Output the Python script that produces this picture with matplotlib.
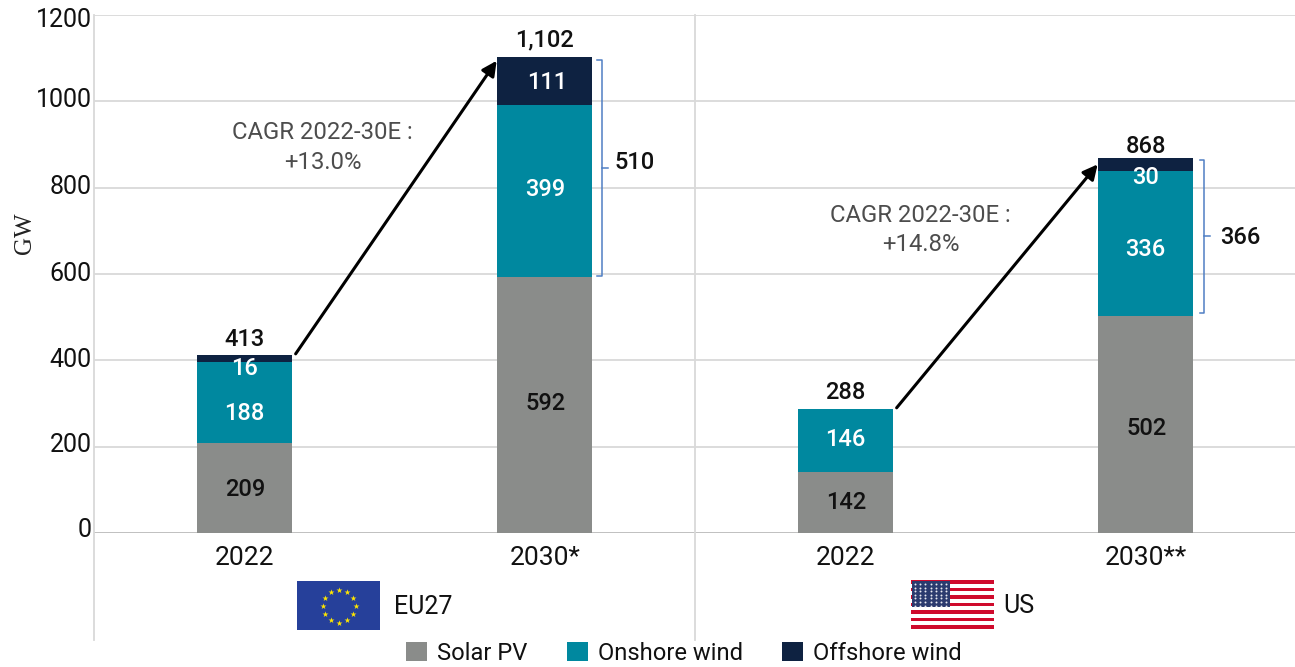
import numpy as np
import matplotlib.pyplot as plt
from matplotlib.patches import Rectangle
from matplotlib.transforms import ScaledTranslation

plt.rcParams['font.family'] = ['Roboto', 'DejaVu Sans']

categories = ['2022', '2030*', '2022', '2030**']
solar = [209, 592, 142, 502]
onshore = [188, 399, 146, 336]
offshore = [16, 111, 0, 30]
totals = ['413', '1,102', '288', '868']
total_heights = [413, 1102, 288, 868]
cagr = ['CAGR 2022-30E :\n+13.0%', 'CAGR 2022-30E :\n+14.8%']
bracket_labels = ['510', '366']

c_solar = '#8a8c8a'
c_on = '#00889f'
c_off = '#0e2241'
grid = '#d9d9d9'
blue = '#4f7fc4'

W, H = 1295, 667
fig = plt.figure(figsize=(W / 100, H / 100), dpi=100)
ax = fig.add_axes([94 / W, 1 - 533 / H, 1202 / W, 518 / H])

x = np.arange(4)
bw = 0.316
solar = np.array(solar)
onshore = np.array(onshore)
offshore = np.array(offshore)
ax.bar(x, solar, bw, color=c_solar, label='Solar PV', zorder=3)
ax.bar(x, onshore, bw, bottom=solar, color=c_on, label='Onshore wind', zorder=3)
ax.bar(x, offshore, bw, bottom=solar + onshore, color=c_off, label='Offshore wind', zorder=3)

ax.set_xlim(-0.5, 3.5)
ax.set_ylim(0, 1200)
ax.set_yticks(range(0, 1201, 200))
ax.set_xticks(x)
ax.set_xticklabels(categories)
ax.tick_params(axis='both', length=0, labelcolor='#111111')
ax.tick_params(axis='x', pad=9.5, labelsize=19)
ax.tick_params(axis='y', pad=1.8, labelsize=18)
# the labels sit a bit off the gridlines in the original
ylab_dy = [2, 1, 0.5, 0, 0.5, 1, -3.6]
for lab, dy in zip(ax.get_yticklabels(), ylab_dy):
    lab.set_verticalalignment('center')
    lab.set_transform(lab.get_transform() + ScaledTranslation(0, dy / 72, fig.dpi_scale_trans))
ax.grid(axis='y', color=grid, lw=1.3, zorder=0)
ax.set_axisbelow(True)
for s in ax.spines.values():
    s.set_visible(False)
ax.axhline(0, color='#bfbfbf', lw=1.3, zorder=1)
for xv in [-0.5, 1.5]:
    ax.plot([xv, xv], [1200, -248], color=grid, lw=1.3, clip_on=False, zorder=1)

ax.set_ylabel('GW', family='Liberation Serif', fontsize=18, color='#222222')
ax.yaxis.set_label_coords(-58 / 1202, 0.578)

# value labels, pixel nudges per label
lab_font = dict(ha='center', va='center', fontsize=17, fontweight='medium', zorder=5,
                textcoords='offset pixels')
solar_dy = [-2, 2, 0, -4]
on_dy = [-11, 2, 1, -6]
off_dy = [-10, -1, 0, -13]
total_dy = [-2, 0, -1, -5]
for i in x:
    ax.annotate(str(solar[i]), (i, solar[i] / 2), xytext=(1, solar_dy[i]), color='#111111', **lab_font)
    ax.annotate(str(onshore[i]), (i, solar[i] + onshore[i] / 2), xytext=(0, on_dy[i]), color='white', **lab_font)
    if offshore[i] > 0:
        ax.annotate(str(offshore[i]), (i, solar[i] + onshore[i] + offshore[i] / 2), xytext=(2 if i == 1 else 0, off_dy[i]),
                    color='white', **lab_font)
    ax.annotate(totals[i], (i, total_heights[i] + 40), xytext=(0, total_dy[i]), color='#111111',
                ha='center', va='center', fontsize=17, fontweight='medium', zorder=5,
                textcoords='offset pixels')

# growth arrows
arrows = [(0, 1), (2, 3)]
for (a, b), txt, tx, ty in zip(arrows, cagr, [0.261, 2.251], [893, 702]):
    ax.annotate('', xy=(b - bw / 2 - 0.002, total_heights[b] - 8 if b == 1 else total_heights[b] - 14),
                xytext=(a + bw / 2 + 0.013, total_heights[a] + 2),
                arrowprops=dict(arrowstyle='-|>', color='black', lw=2.2, mutation_scale=22,
                                shrinkA=0, shrinkB=0), zorder=6)
    ax.text(tx, ty, txt, ha='center', va='center', fontsize=17.2, color='#4d4d4d',
            linespacing=1.35)

# brackets for the 2022-30 additions
for b, lab, top, bot, lab_dx, lab_dy, extra in zip([1, 3], bracket_labels, [1096, 865], [595, 510],
                                                   [0.02, 0.033], [12, -4], [0, 0.004]):
    xs = b + bw / 2 + 0.017 + extra
    xb = b + bw / 2 + 0.033 + extra
    xm = xb + 0.02
    mid = (top + bot) / 2
    ax.plot([xs, xb, xb, xs], [top, top, bot, bot], color=blue, lw=1.1, zorder=4)
    ax.plot([xb, xm], [mid, mid], color=blue, lw=1.1, zorder=4)
    ax.text(xm + lab_dx, mid + lab_dy, lab, ha='left', va='center', fontsize=17,
            fontweight='medium', color='#111111')

# flags, drawn in pixel space
ov = fig.add_axes([0, 0, 1, 1], zorder=10)
ov.set_xlim(0, W)
ov.set_ylim(H, 0)
ov.axis('off')

ov.add_patch(Rectangle((297, 581), 83, 49, color='#26409a', lw=0))
ang = np.deg2rad(np.arange(0, 360, 30))
ov.scatter(339 + 16.5 * np.cos(ang), 606 + 16.5 * np.sin(ang), marker='*', s=20, color='#ffe600', lw=0)
ov.text(394, 607, 'EU27', fontsize=18, color='#111111', va='center', ha='left')

for k in range(13):
    ov.add_patch(Rectangle((911, 580 + k * 49 / 13), 83, 49 / 13, color='#cf0a2c' if k % 2 == 0 else 'white', lw=0))
ov.add_patch(Rectangle((912, 581), 38, 26, color='#2b3a6e', lw=0))
sx, sy = np.meshgrid(np.arange(915, 949, 5.2), np.arange(584, 606, 3.6))
ov.scatter(sx.ravel(), sy.ravel(), marker='o', s=2, color='#e8e8f0', lw=0)
ov.text(1003, 606, 'US', fontsize=18, color='#111111', va='center', ha='left')

# legend sits right on the bottom edge like the original
leg = fig.legend(*ax.get_legend_handles_labels(), loc='lower center', ncol=3, frameon=False,
                 fontsize=17.1, bbox_to_anchor=(684 / W, -19 / H), handlelength=0.88, handleheight=0.9,
                 handletextpad=0.42, columnspacing=1.65, labelcolor='#111111')

fig.savefig('out.png', dpi=100)
